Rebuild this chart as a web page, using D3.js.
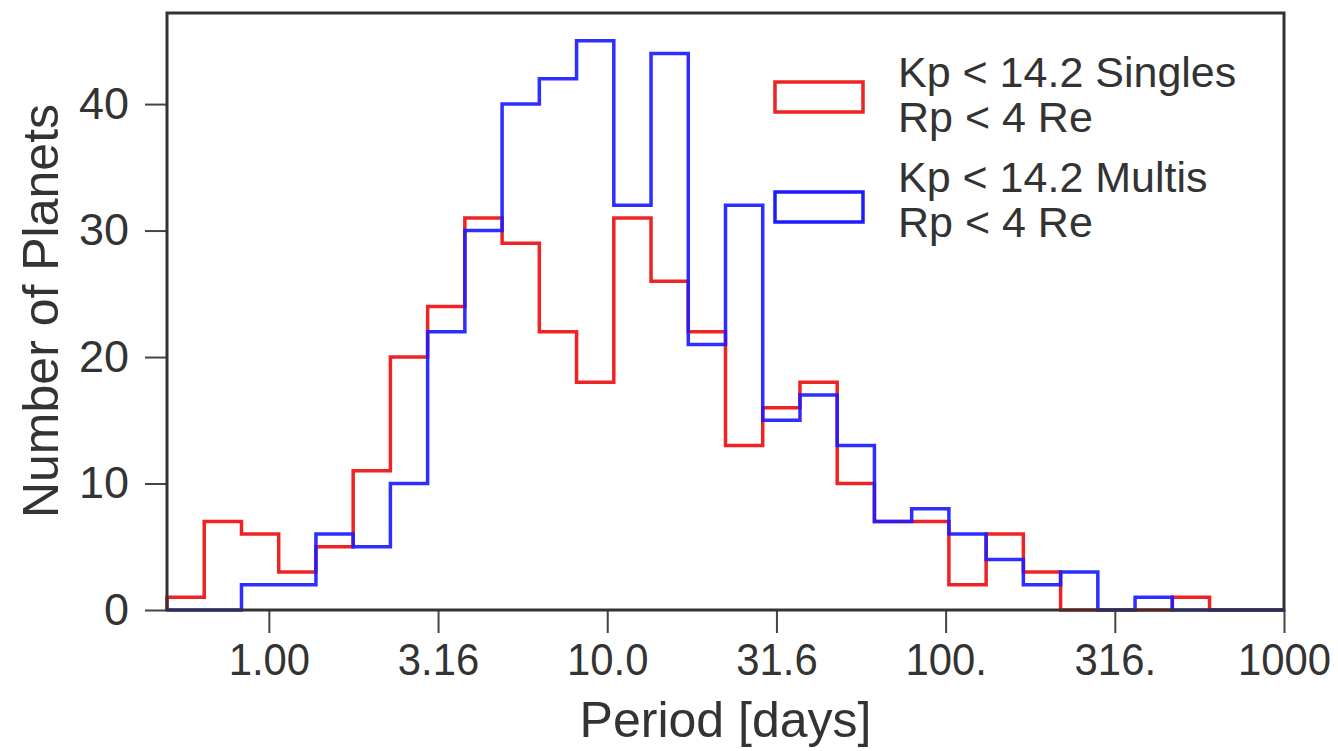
<!DOCTYPE html>
<html>
<head>
<meta charset="utf-8">
<script src="https://cdn.jsdelivr.net/npm/d3@7"></script>
<style>
  html, body { margin: 0; padding: 0; background: #fff; }
  svg { display: block; }
  text { font-family: "Liberation Sans", Arial, sans-serif; fill: #333; }
</style>
</head>
<body>
<svg id="chart" width="1338" height="751"></svg>
<script>
// counts per log-spaced period bin (30 bins from 0.5 to 1000 days)
const singles = [1, 7, 6, 3, 5, 11, 20, 24, 31, 29, 22, 18, 31, 26, 22, 13, 16, 18, 10, 7, 7, 2, 6, 3, 0, 0, 0, 1, 0, 0];
const multis = [0, 0, 2, 2, 6, 5, 10, 22, 30, 40, 42, 45, 32, 44, 21, 32, 15, 17, 13, 7, 8, 6, 4, 2, 3, 0, 1, 0, 0, 0];
const periodMin = 0.5;
const periodMax = 1000;
const xTickValues = [1, 3.1623, 10, 31.623, 100, 316.23, 1000];
const xTickLabels = ['1.00', '3.16', '10.0', '31.6', '100.', '316.', '1000'];
const yTickValues = [0, 10, 20, 30, 40];
const legendLabels = [
  ['Kp < 14.2 Singles', 'Rp < 4 Re'],
  ['Kp < 14.2 Multis', 'Rp < 4 Re']
];
const colors = ['#ee2323', '#1c1cff'];

const plot = { left: 167, right: 1284, top: 13, bottom: 610 };
const svg = d3.select('#chart');

const x = d3.scaleLog().domain([periodMin, periodMax]).range([plot.left, plot.right]);
const y = d3.scaleLinear().domain([0, 47.2]).range([plot.bottom, plot.top]);

// bin edges, equally spaced in log period
const nBins = singles.length;
const lo = Math.log10(periodMin);
const hi = Math.log10(periodMax);
const edges = d3.range(nBins + 1).map((i) => Math.pow(10, lo + (hi - lo) * i / nBins));

const stepPoints = (counts) => {
  const pts = [[edges[0], 0]];
  counts.forEach((c, i) => {
    pts.push([edges[i], c]);
    pts.push([edges[i + 1], c]);
  });
  pts.push([edges[nBins], 0]);
  return pts;
};

const line = d3.line().x((d) => x(d[0])).y((d) => y(d[1]));

const series = [singles, multis];
svg.append('g').attr('class', 'series')
  .selectAll('path')
  .data(series)
  .enter().append('path')
  .attr('d', (d) => line(stepPoints(d)))
  .attr('fill', 'none')
  .attr('stroke', (d, i) => colors[i])
  .attr('stroke-opacity', (d, i) => i === 1 ? 0.92 : 1)
  .attr('stroke-width', 3.5)
  .attr('stroke-linejoin', 'miter');

// axes
const xAxis = d3.axisBottom(x)
  .tickValues(xTickValues)
  .tickFormat((d, i) => xTickLabels[i])
  .tickSize(23)
  .tickPadding(10);
const gx = svg.append('g')
  .attr('transform', `translate(0,${plot.bottom})`)
  .call(xAxis);

const yAxis = d3.axisLeft(y)
  .tickValues(yTickValues)
  .tickSize(22)
  .tickPadding(16);
const gy = svg.append('g')
  .attr('transform', `translate(${plot.left},0)`)
  .call(yAxis);

[gx, gy].forEach((g) => {
  g.select('.domain').remove();
  g.selectAll('.tick line').attr('stroke', '#444').attr('stroke-width', 2);
  g.selectAll('.tick text').attr('fill', '#333').attr('font-size', 45);
});
gx.selectAll('.tick text').attr('transform', 'scale(0.93,1)');

// frame on top
svg.append('rect')
  .attr('x', plot.left)
  .attr('y', plot.top)
  .attr('width', plot.right - plot.left)
  .attr('height', plot.bottom - plot.top)
  .attr('fill', 'none')
  .attr('stroke', '#333')
  .attr('stroke-width', 3);

// axis titles
svg.append('text')
  .attr('x', (plot.left + plot.right) / 2)
  .attr('y', 737)
  .attr('text-anchor', 'middle')
  .attr('font-size', 50)
  .text('Period [days]');

svg.append('text')
  .attr('transform', 'translate(58,311) rotate(-90)')
  .attr('text-anchor', 'middle')
  .attr('font-size', 50)
  .text('Number of Planets');

// legend
const legend = svg.append('g').attr('class', 'legend');
const legendRows = [{ box: 82, base: 87 }, { box: 192, base: 192 }];
legendLabels.forEach((lines, i) => {
  legend.append('rect')
    .attr('x', 775)
    .attr('y', legendRows[i].box)
    .attr('width', 88)
    .attr('height', 30)
    .attr('fill', 'none')
    .attr('stroke', colors[i])
    .attr('stroke-width', 3.5);
  lines.forEach((t, j) => {
    legend.append('text')
      .attr('x', 898)
      .attr('y', legendRows[i].base + j * 45)
      .attr('font-size', 43)
      .text(t);
  });
});
</script>
</body>
</html>
